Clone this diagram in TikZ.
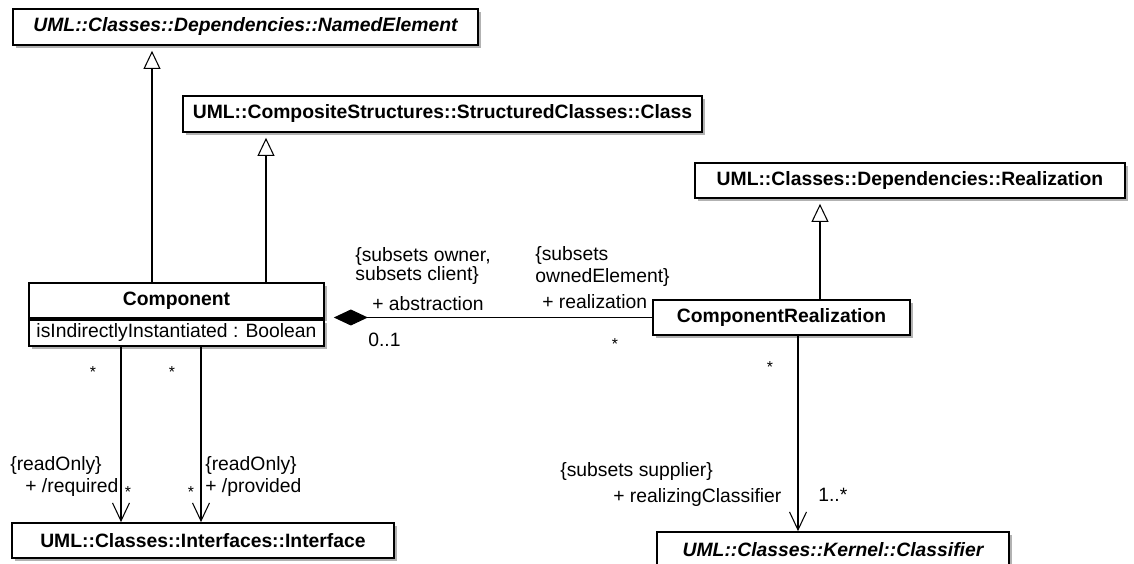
\documentclass[tikz,border=0pt]{standalone}
\usepackage{fontspec}
\setmainfont{Liberation Sans}
\usetikzlibrary{positioning,arrows.meta,shadows}
\tikzset{class node/.style={rectangle,draw,line width=1pt,fill=white,minimum height=0.7cm,inner sep=0pt,
    font=\fontsize{11}{13}\selectfont\bfseries,
    drop shadow={shadow xshift=0.06cm,shadow yshift=-0.06cm,fill=black!30,opacity=1}},
  label node/.style={inner sep=0pt,font=\fontsize{11}{13}\selectfont},
  mult node/.style={inner sep=0pt,font=\fontsize{9}{10}\selectfont},
  gen/.style={-{Triangle[open,length=0.36cm,width=0.34cm]},shorten >=0.1cm,line width=0.6pt},
  nav/.style={-{Straight Barb[length=0.36cm,width=0.34cm]},line width=0.6pt},
  composite/.style={-{Diamond[length=0.68cm,width=0.32cm]},shorten >=0.18cm,line width=0.6pt} }

\begin{document}
\begin{tikzpicture}[x=0.02cm,y=-0.02cm]
\useasboundingbox (0,0) rectangle (1134,564);

  % classes
  \node[class node,minimum width=9.3cm,minimum height=0.72cm] (named) at (245.5,27) {\itshape UML::Classes::Dependencies::NamedElement};
  \node[class node,minimum width=10.38cm,minimum height=0.72cm] (cls) at (442.5,114) {UML::CompositeStructures::StructuredClasses::Class};
  \node[class node,minimum width=8.6cm] (real) at (910,180.5) {UML::Classes::Dependencies::Realization};
  \node[class node,minimum width=5.9cm] (comp) at (176.5,300.5) {Component};
  \node[class node,minimum width=5.9cm,minimum height=0.52cm,font=\fontsize{11}{13}\selectfont] (attr) [below=0pt of comp] {isIndirectlyInstantiated : Boolean};
  \node[class node,minimum width=5.14cm] (cr) at (781.5,317.5) {ComponentRealization};
  \node[class node,minimum width=7.64cm] (iface) at (203,540.5) {UML::Classes::Interfaces::Interface};
  \node[class node,minimum width=7.04cm,minimum height=0.72cm] (clsf) at (833,550) {\itshape UML::Classes::Kernel::Classifier};

  \coordinate (gx1) at (152,0);
  \coordinate (gx2) at (266,0);
  \coordinate (gx3) at (820,0);
  \coordinate (rx1) at (121,0);
  \coordinate (rx2) at (201,0);
  \coordinate (rx3) at (798,0);

  % generalizations
  \draw[gen] (comp.north -| gx1) -- (named.south -| gx1);
  \draw[gen] (comp.north -| gx2) -- (cls.south -| gx2);
  \draw[gen] (cr.north -| gx3) -- (real.south -| gx3);

  % associations
  \draw[composite] (cr.west) -- (cr.west -| comp.east);
  \draw[nav] (attr.south -| rx1) -- (iface.north -| rx1);
  \draw[nav] (attr.south -| rx2) -- (iface.north -| rx2);
  \draw[nav] (cr.south -| rx3) -- (clsf.north -| rx3);

  % abstraction / realization ends
  \node[label node,anchor=west] (own1) at (355,257) {\{subsets owner,};
  \node[label node,anchor=west] (own2) at (355,276) {subsets client\}};
  \node[label node,anchor=west] (abs) at (372,304) {+ abstraction};
  \node[label node,anchor=west] (absm) at (368,340) {0..1};
  \node[label node,anchor=west] (oe1) at (535,256) {\{subsets};
  \node[label node,anchor=west] (oe2) at (535,278) {ownedElement\}};
  \node[label node,anchor=west] (rlz) at (542,302) {+ realization};
  \node[mult node] (rlzm) at (615,344) {*};

  % required / provided ends
  \node[mult node] (reqs) at (93,372) {*};
  \node[mult node] (provs) at (172,372) {*};
  \node[label node,anchor=west] (ro1) at (10,466) {\{readOnly\}};
  \node[label node,anchor=west] (req) at (25,488) {+ /required};
  \node[mult node] (reqm) at (128,492) {*};
  \node[mult node] (provm) at (191,492) {*};
  \node[label node,anchor=west] (ro2) at (205,466) {\{readOnly\}};
  \node[label node,anchor=west] (prov) at (205,488) {+ /provided};

  % realizingClassifier end
  \node[mult node] (rcs) at (770,367) {*};
  \node[label node,anchor=west] (sup) at (560,472) {\{subsets supplier\}};
  \node[label node,anchor=west] (rc) at (613,498) {+ realizingClassifier};
  \node[label node,anchor=west] (rcm) at (818,495) {1..*};
\end{tikzpicture}
\end{document}
